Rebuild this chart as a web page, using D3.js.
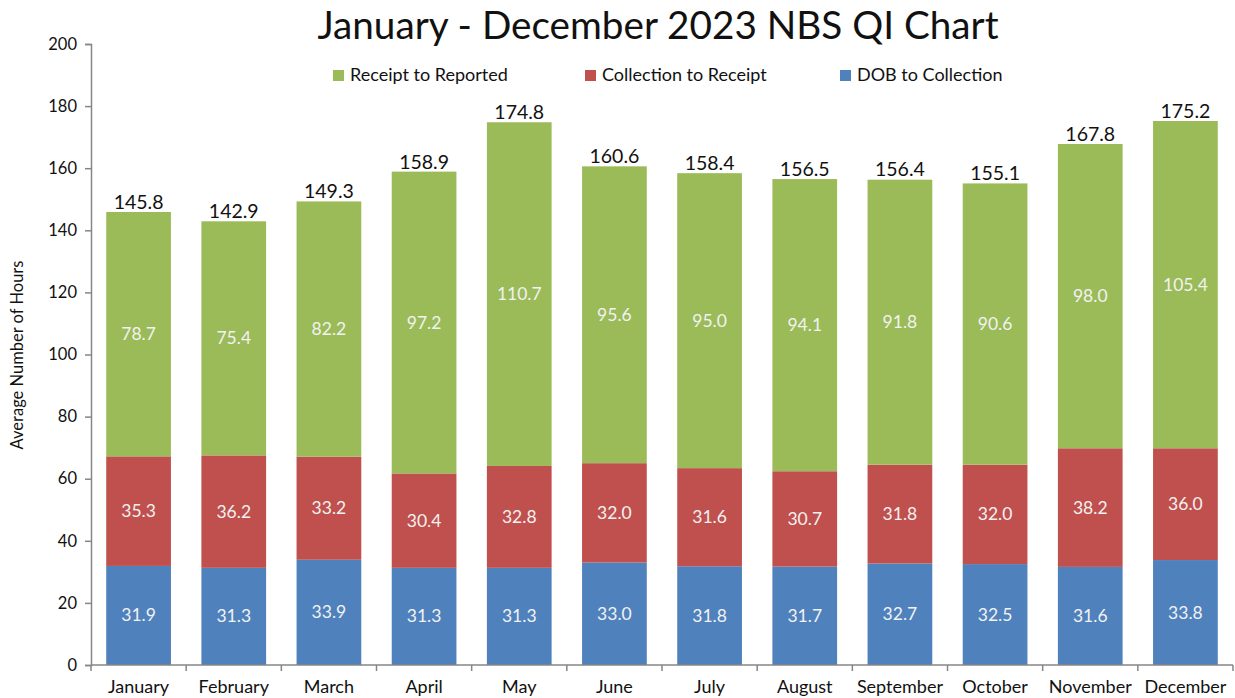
<!DOCTYPE html>
<html>
<head>
<meta charset="utf-8">
<script src="https://cdn.jsdelivr.net/npm/d3@7"></script>
<style>
body{margin:0;background:#fff;}
text{font-family:Lato,"Open Sans",sans-serif;}
</style>
</head>
<body>
<script>
var w=1235;
var h=698;

var months=["January","February","March","April","May","June","July","August","September","October","November","December"];
var dobToCollection=[31.9,31.3,33.9,31.3,31.3,33.0,31.8,31.7,32.7,32.5,31.6,33.8];
var collectionToReceipt=[35.3,36.2,33.2,30.4,32.8,32.0,31.6,30.7,31.8,32.0,38.2,36.0];
var receiptToReported=[78.7,75.4,82.2,97.2,110.7,95.6,95.0,94.1,91.8,90.6,98.0,105.4];
var totals=[145.8,142.9,149.3,158.9,174.8,160.6,158.4,156.5,156.4,155.1,167.8,175.2];
var yTicks=[0,20,40,60,80,100,120,140,160,180,200];

var seriesNames=["DOB to Collection","Collection to Receipt","Receipt to Reported"];
var colors=["#4F81BD","#C0504D","#9BBB59"];

var plotLeft=91, plotRight=1233, plotTop=44, plotBottom=665;

var table=months.map(function(m,i){
    return {month:m,
        "DOB to Collection":dobToCollection[i],
        "Collection to Receipt":collectionToReceipt[i],
        "Receipt to Reported":receiptToReported[i],
        total:totals[i]};
});

var stack=d3.stack().keys(seriesNames)(table);

var xScale=d3.scaleBand()
    .domain(months)
    .range([plotLeft,plotRight])
    .paddingInner(0.32)
    .paddingOuter(0.16);

var xEdge=d3.scaleBand()
    .domain(months)
    .range([plotLeft,plotRight]);

var yScale=d3.scaleLinear()
    .domain([0,200])
    .range([plotBottom,plotTop]);

var svg=d3.select("body")
    .append("svg")
    .attr("width",w)
    .attr("height",h);

// bars
var layer=svg.selectAll("g.layer")
    .data(stack)
    .enter()
    .append("g")
    .attr("class","layer")
    .attr("fill",function(d,i){return colors[i];});

layer.selectAll("rect")
    .data(function(d){return d;})
    .enter()
    .append("rect")
    .attr("x",function(d){return xScale(d.data.month);})
    .attr("y",function(d){return yScale(d[1]);})
    .attr("width",xScale.bandwidth())
    .attr("height",function(d){return yScale(d[0])-yScale(d[1]);});

// labels inside segments
layer.selectAll("text")
    .data(function(d){return d.map(function(p){return {p:p,key:d.key};});})
    .enter()
    .append("text")
    .attr("x",function(d){return xScale(d.p.data.month)+xScale.bandwidth()/2;})
    .attr("y",function(d){return yScale((d.p[0]+d.p[1])/2)+6;})
    .attr("text-anchor","middle")
    .attr("fill","#f2f2f2")
    .attr("font-size",17.5)
    .text(function(d){return d.p.data[d.key].toFixed(1);});

// totals
svg.selectAll("text.total")
    .data(table)
    .enter()
    .append("text")
    .attr("class","total")
    .attr("x",function(d){return xScale(d.month)+xScale.bandwidth()/2;})
    .attr("y",function(d){return yScale(d.total)-3;})
    .attr("text-anchor","middle")
    .attr("fill","#111")
    .attr("font-size",19.5)
    .text(function(d){return d.total.toFixed(1);});

// y axis
var yAxis=d3.axisLeft(yScale)
    .tickValues(yTicks)
    .tickSize(6)
    .tickPadding(8);

var gy=svg.append("g")
    .attr("transform","translate("+plotLeft+",0)")
    .call(yAxis);
gy.select(".domain").attr("stroke","#868686").attr("stroke-width",1.5);
gy.selectAll(".tick line").attr("stroke","#868686").attr("stroke-width",1.5);
gy.selectAll(".tick text").attr("font-size",16.5).attr("fill","#111").attr("font-family","Lato,sans-serif");

// x axis
var gx=svg.append("g");
gx.append("line")
    .attr("x1",plotLeft).attr("x2",plotRight)
    .attr("y1",plotBottom).attr("y2",plotBottom)
    .attr("stroke","#868686").attr("stroke-width",1.5);
gx.selectAll("line.tk")
    .data(months.concat(["end"]))
    .enter()
    .append("line")
    .attr("class","tk")
    .attr("x1",function(d,i){return i<months.length?xEdge(d):plotRight;})
    .attr("x2",function(d,i){return i<months.length?xEdge(d):plotRight;})
    .attr("y1",plotBottom).attr("y2",plotBottom+6)
    .attr("stroke","#868686").attr("stroke-width",1.5);
gx.selectAll("text")
    .data(months)
    .enter()
    .append("text")
    .attr("x",function(d){return xEdge(d)+xEdge.bandwidth()/2;})
    .attr("y",plotBottom+28)
    .attr("text-anchor","middle")
    .attr("font-size",18)
    .attr("fill","#111")
    .text(function(d){return d;});

// y label
svg.append("text")
    .attr("transform","translate(23,"+355+") rotate(-90)")
    .attr("text-anchor","middle")
    .attr("font-size",16.5)
    .attr("fill","#111")
    .text("Average Number of Hours");

// title
svg.append("text")
    .attr("x",658)
    .attr("y",39)
    .attr("text-anchor","middle")
    .attr("font-size",38.7)
    .attr("fill","#111")
    .text("January - December 2023 NBS QI Chart");

// legend (top order: green, red, blue)
var legendX=[333,585,840];
var legendOrder=[2,1,0];
var lg=svg.selectAll("g.legend")
    .data(legendOrder)
    .enter()
    .append("g")
    .attr("class","legend")
    .attr("transform",function(d,i){return "translate("+legendX[i]+",70)";});
lg.append("rect")
    .attr("width",11).attr("height",11)
    .attr("fill",function(d){return colors[d];});
lg.append("text")
    .attr("x",17).attr("y",11)
    .attr("font-size",18)
    .attr("fill","#111")
    .text(function(d){return seriesNames[d];});
</script>
</body>
</html>
